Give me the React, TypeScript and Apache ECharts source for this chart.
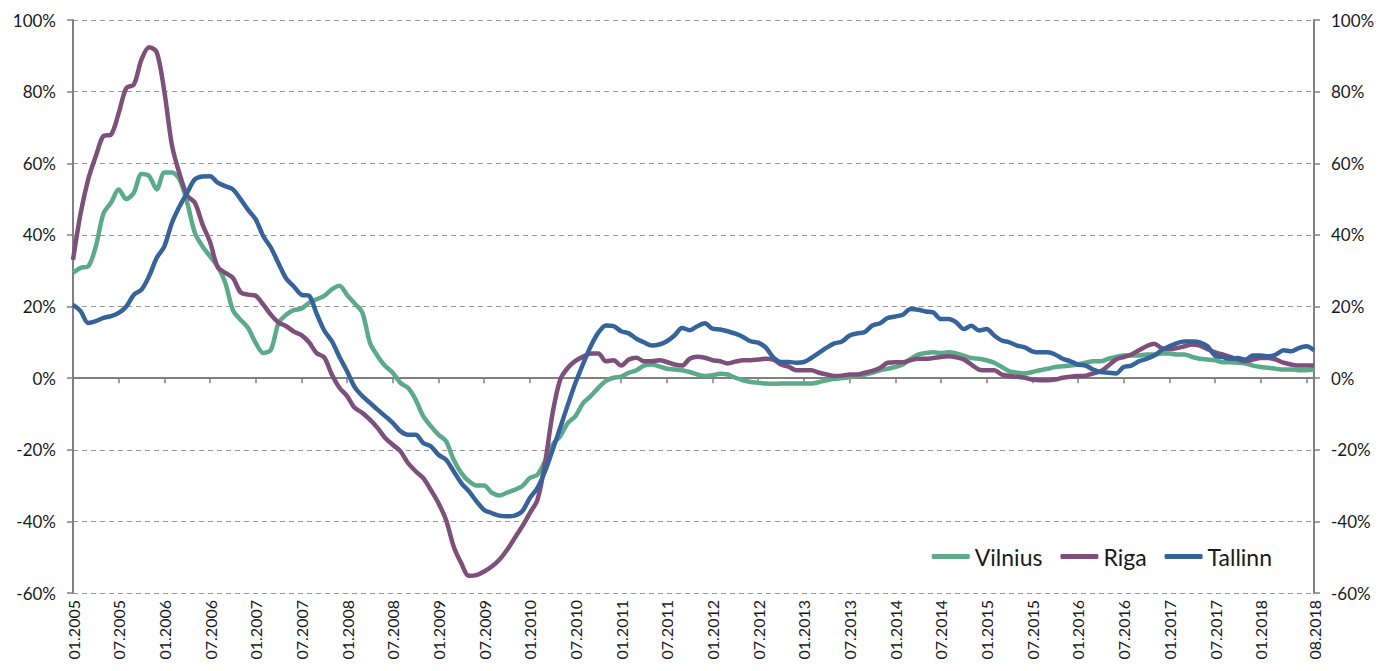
import React, { useEffect, useRef } from "react";
import * as echarts from "echarts";

const months: string[] = [];
for (let y = 2005; y <= 2018; y++) {
  for (let m = 1; m <= 12; m++) {
    if (y === 2018 && m > 8) break;
    months.push(`${m < 10 ? "0" + m : m}.${y}`);
  }
}

const vilnius = [
  29.4, 30.8, 31.2, 36.8, 46, 49, 52.7, 50, 51.8, 57, 56.4, 52.7, 57.4, 57.4, 55.5, 49, 40.6, 36.8, 34, 31.2,
  26.6, 19, 16.3, 14, 9.8, 7, 7.9, 15.4, 17.7, 19, 19.4, 21, 22, 23, 24.8, 25.8, 23.2, 20.8, 18.3, 9.9,
  6.2, 3.4, 1.5, -1.3, -2.7, -6, -10.6, -13.4, -15.8, -17.6, -22.8, -26.5, -28.8, -30, -30, -32, -32.8, -32, -31.2, -30.2,
  -27.9, -27, -23.2, -18.5, -16.2, -12.5, -10.6, -7, -5, -2.7, -0.8, 0.1, 0.4, 1.5, 2.2, 3.5, 3.8, 3.3, 2.6, 2.4,
  2.2, 1.7, 1, 0.6, 0.8, 1.2, 1, 0.1, -0.6, -1.1, -1.3, -1.5, -1.6, -1.5, -1.5, -1.5, -1.5, -1.5, -1.1, -0.6,
  -0.2, 0, 0.3, 0.6, 1, 1.5, 2.2, 2.6, 3.1, 3.8, 5.4, 6.6, 7, 7.2, 7, 7.2, 6.9, 6.3, 5.6, 5.4,
  5, 4.3, 3.1, 1.9, 1.5, 1.3, 1.7, 2.2, 2.6, 3.1, 3.3, 3.5, 3.8, 4.3, 4.7, 4.7, 5.4, 5.9, 6.3, 6.3,
  6.3, 6.6, 6.6, 6.9, 6.9, 6.6, 6.6, 5.9, 5.4, 5.2, 5, 4.4, 4.4, 4.3, 4.1, 3.5, 3.1, 2.9, 2.6, 2.4,
  2.4, 2.2, 2.2, 2.4,
];

const riga = [
  33, 46, 55.5, 62, 67.6, 68, 74, 81, 82, 89, 92.4, 91, 80, 65, 57, 51, 49, 43, 38, 31,
  29.4, 28, 24, 23.3, 23, 20.5, 17.7, 15.5, 14.5, 13, 12, 10, 7, 5.8, 1, -2.7, -5, -8.3, -9.7, -11.6,
  -13.9, -16.7, -18.6, -20.4, -23.7, -26, -27.9, -31.2, -34.9, -39.6, -47, -51.7, -55.2, -55, -54, -52.6, -50.7, -48, -44.7, -41.4,
  -37.7, -34, -23.7, -9.7, -0.4, 2.9, 4.8, 6, 6.9, 6.9, 4.7, 5, 3.5, 5.2, 5.7, 4.7, 4.7, 5, 4.5, 3.8,
  3.5, 5.4, 6, 5.7, 5, 4.7, 4.1, 4.6, 5, 5, 5.2, 5.4, 5.2, 3.8, 3.2, 2.2, 2.2, 2.2, 1.5, 1,
  0.6, 0.7, 1, 1, 1.5, 2, 2.8, 4.3, 4.4, 4.4, 5, 5.4, 5.4, 5.6, 5.9, 6.1, 5.8, 5.2, 3.8, 2.4,
  2.2, 2.2, 1, 0.6, 0.4, 0.1, -0.4, -0.6, -0.6, -0.4, 0.1, 0.4, 0.6, 0.7, 1.3, 1.9, 3.5, 5.2, 5.9, 6.6,
  7.8, 8.9, 9.6, 8.4, 8.1, 8.4, 8.9, 9.4, 9.1, 8.1, 7.2, 6.6, 5.9, 5.2, 4.7, 5.2, 5.6, 5.6, 5.2, 4.3,
  3.8, 3.5, 3.5, 3.5,
];

const tallinn = [
  20.5, 18.7, 15.4, 15.9, 16.8, 17.3, 18.2, 20, 23.3, 24.7, 28.5, 33.6, 36.8, 43.4, 48, 51.8, 55.5, 56.3, 56.4, 54.6,
  53.6, 52.7, 50, 47, 44.3, 39.6, 36.4, 32, 27.8, 25.6, 23.3, 23, 18, 13.3, 10.3, 5.9, 1.9, -2.5, -5, -6.9,
  -8.8, -10.6, -12.5, -14.8, -15.8, -15.8, -18.1, -19, -21.4, -22.8, -26, -29.3, -31.6, -34.4, -36.8, -37.7, -38.4, -38.6, -38.4, -37.2,
  -33.5, -30.7, -26, -20, -13.8, -7.4, -1.3, 4, 8.9, 12.7, 14.7, 14.5, 13.1, 12.5, 11, 10, 9.1, 9.4, 10.3, 11.9,
  14, 13.4, 14.5, 15.3, 13.8, 13.6, 13.1, 12.4, 11.5, 10.3, 9.9, 8.5, 5.7, 4.5, 4.5, 4.3, 4.5, 5.7, 7.1, 8.5,
  9.7, 10.2, 11.9, 12.5, 12.9, 14.7, 15.3, 16.8, 17.2, 17.7, 19.3, 19.1, 18.6, 18.3, 16.5, 16.5, 15.6, 13.7, 14.6, 13.3,
  13.7, 11.9, 10.5, 10, 9.1, 8.6, 7.5, 7.2, 7.2, 6.6, 5.4, 4.7, 3.8, 3.5, 2.4, 1.7, 1.5, 1.3, 3.1, 3.5,
  4.7, 5.4, 6.3, 7.8, 8.9, 9.8, 10.2, 10.2, 10, 8.9, 6.3, 5.9, 5.4, 5.6, 5.2, 6.3, 6.3, 6.1, 6.6, 7.8,
  7.5, 8.4, 8.9, 7.8,
];

const seriesNames = ["Vilnius", "Riga", "Tallinn"];
const seriesColors = ["#5bab8a", "#7e4f7b", "#35639a"];
const yTicks = { min: -60, max: 100, interval: 20 };

const FONT = "Lato, 'Open Sans', sans-serif";

export default function App() {
  const ref = useRef<HTMLDivElement>(null);
  useEffect(() => {
    if (!ref.current) return;
    const chart = echarts.init(ref.current, null, { renderer: "svg" });
    const last = months.length - 1;
    const labelInterval = (i: number) => (i % 6 === 0 && i < last - 3) || i === last;
    const tickInterval = (i: number) => i % 6 === 0;
    const yAxisBase = {
      type: "value",
      min: yTicks.min,
      max: yTicks.max,
      interval: yTicks.interval,
      axisLine: { show: true, lineStyle: { color: "#808080", width: 2 } },
      axisTick: { show: true, length: 6, lineStyle: { color: "#808080", width: 1.5 } },
      axisLabel: {
        formatter: "{value}%",
        fontSize: 17,
        color: "#1a1a1a",
        fontFamily: FONT,
        margin: 17,
      },
    };
    chart.setOption({
      animation: false,
      backgroundColor: "#ffffff",
      grid: { left: 73, right: 81, top: 20, bottom: 78, containLabel: false },
      legend: {
        data: seriesNames,
        right: 118,
        top: 540,
        icon: "roundRect",
        itemWidth: 38,
        itemHeight: 5,
        itemGap: 18,
        textStyle: { fontSize: 23, color: "#1a1a1a", fontFamily: FONT },
      },
      xAxis: [
        {
          type: "category",
          data: months,
          boundaryGap: false,
          position: "bottom",
          axisLine: { show: false, onZero: false },
          axisTick: { show: false },
          splitLine: { show: false },
          axisLabel: {
            rotate: 90,
            interval: labelInterval,
            fontSize: 16,
            color: "#1a1a1a",
            fontFamily: FONT,
            margin: 7,
            hideOverlap: false,
          },
        },
        {
          type: "category",
          data: months,
          boundaryGap: false,
          position: "bottom",
          axisLine: { show: true, onZero: true, lineStyle: { color: "#808080", width: 2 } },
          axisTick: { show: true, interval: tickInterval, length: 5, lineStyle: { color: "#808080", width: 1.5 } },
          axisLabel: { show: false },
          splitLine: { show: false },
        },
      ],
      yAxis: [
        {
          ...yAxisBase,
          position: "left",
          splitLine: { show: true, lineStyle: { color: "#999999", width: 1, type: [5, 4] } },
        },
        {
          ...yAxisBase,
          position: "right",
          splitLine: { show: false },
        },
      ],
      series: [vilnius, riga, tallinn].map((d, k) => ({
        name: seriesNames[k],
        type: "line",
        data: d,
        xAxisIndex: 0,
        yAxisIndex: 0,
        smooth: 0.3,
        symbol: "none",
        lineStyle: { width: 4.5, color: seriesColors[k] },
        itemStyle: { color: seriesColors[k] },
      })),
    });
    return () => chart.dispose();
  }, []);
  return (
    <div
      ref={ref}
      style={{ position: "fixed", left: 0, top: 0, width: 1395, height: 671 }}
    />
  );
}
